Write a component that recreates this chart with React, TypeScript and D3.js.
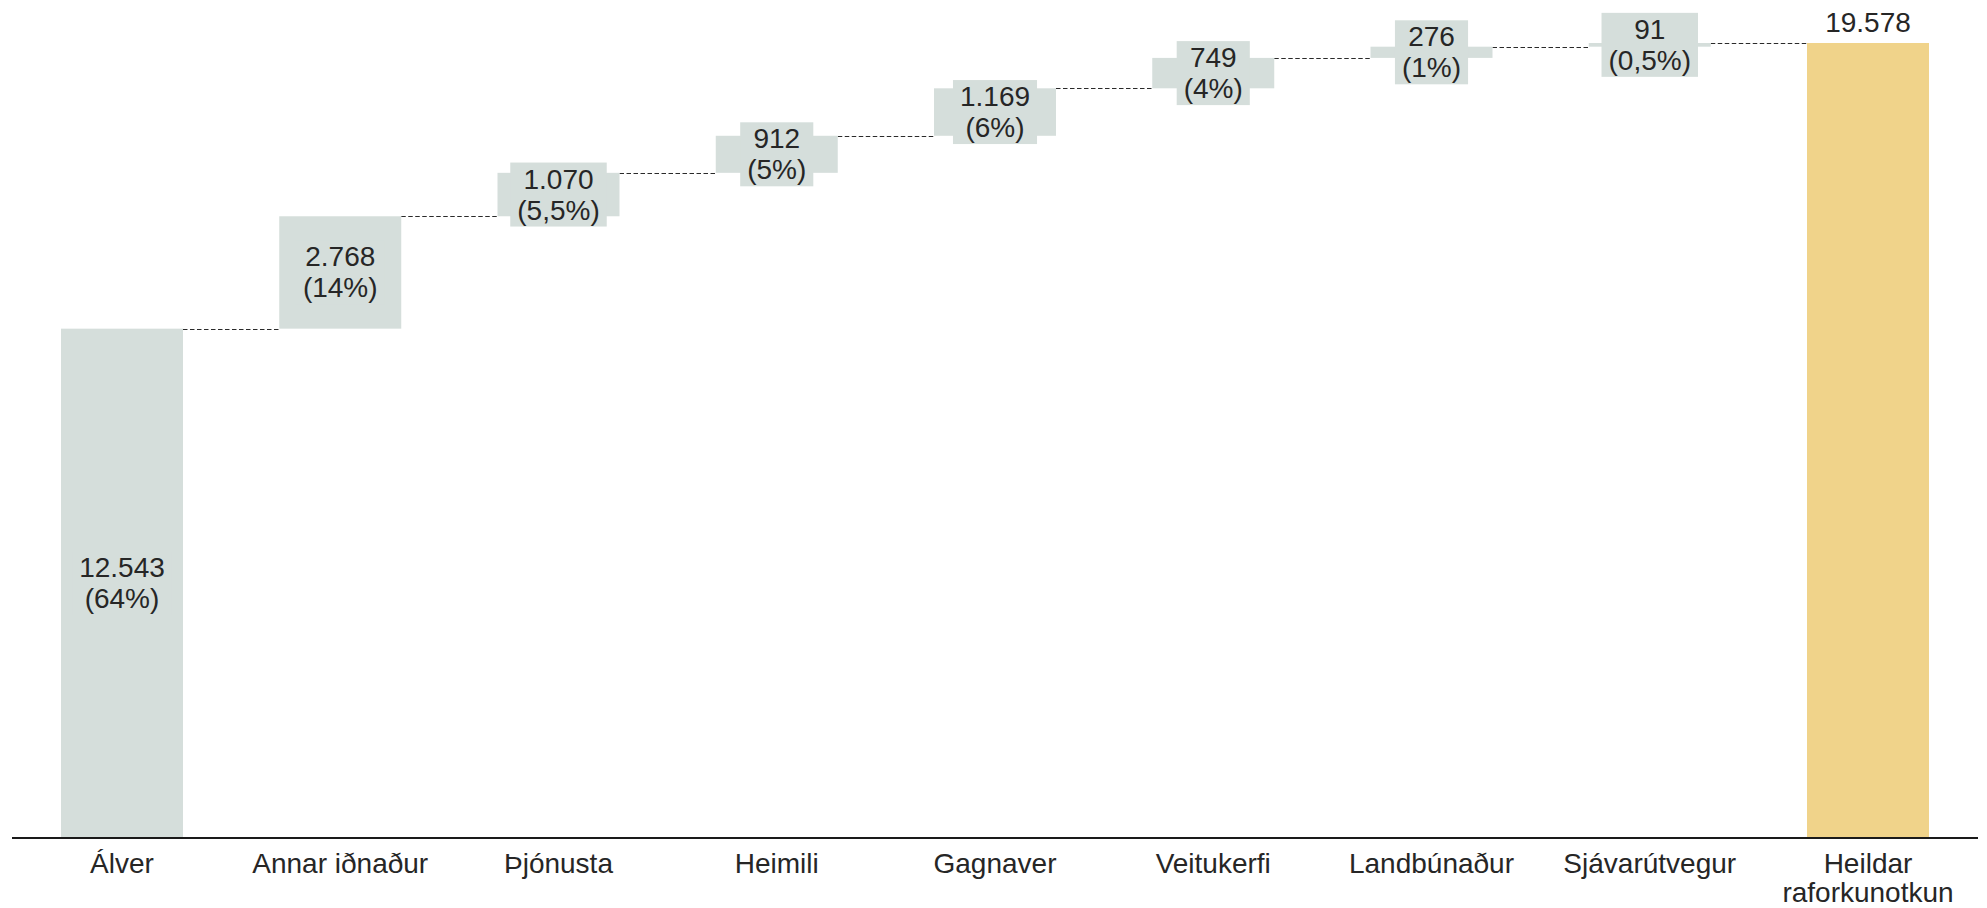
import React from "react";
import * as d3 from "d3";

// Electricity use by sector (GWh), with share of the total
const categories = [
  "Álver",
  "Annar iðnaður",
  "Þjónusta",
  "Heimili",
  "Gagnaver",
  "Veitukerfi",
  "Landbúnaður",
  "Sjávarútvegur",
  "Heildar raforkunotkun",
];
const sectorValues = [12543, 2768, 1070, 912, 1169, 749, 276, 91];
const shareLabels = ["(64%)", "(14%)", "(5,5%)", "(5%)", "(6%)", "(4%)", "(1%)", "(0,5%)"];
const categoryLines = [
  ["Álver"],
  ["Annar iðnaður"],
  ["Þjónusta"],
  ["Heimili"],
  ["Gagnaver"],
  ["Veitukerfi"],
  ["Landbúnaður"],
  ["Sjávarútvegur"],
  ["Heildar", "raforkunotkun"],
];

const W = 1987;
const H = 908;
const FONT = "'Liberation Sans', Arial, Helvetica, sans-serif";
const FS = 28;
const LH = 31;
const BAR = "#d5dedb";
const TOTAL = "#f0d38a";
const TEXT = "#262626";

const isLocale = d3.formatLocale({ decimal: ",", thousands: ".", grouping: [3], currency: ["", " kr."] });
const fmt = isLocale.format(",d");

let measureCtx: CanvasRenderingContext2D | null = null;
function textWidth(s: string): number {
  if (!measureCtx) {
    const c = document.createElement("canvas");
    measureCtx = c.getContext("2d");
  }
  if (!measureCtx) return s.length * FS * 0.55;
  measureCtx.font = `${FS}px 'Liberation Sans', Arial, sans-serif`;
  return measureCtx.measureText(s).width;
}

export default function App() {
  const total = d3.sum(sectorValues);
  const x0 = 12;
  const x1 = 1978;
  const axisY = 838;

  const x = d3
    .scaleBand<string>()
    .domain(categories)
    .range([x0, x1])
    .paddingInner(0.441)
    .paddingOuter(0.2245);

  const y = d3.scaleLinear().domain([0, total]).range([axisY, 43]);

  // running totals for the floating steps
  const steps = sectorValues.map((v, i) => {
    const start = d3.sum(sectorValues.slice(0, i));
    return { cat: categories[i], start, end: start + v, value: v, share: shareLabels[i] };
  });

  const bw = x.bandwidth();

  return (
    <svg
      width={W}
      height={H}
      style={{ position: "absolute", left: 0, top: 0, background: "#fff" }}
      fontFamily={FONT}
    >
      {/* connectors between steps */}
      {steps.map((s, i) => {
        const nextCat = categories[i + 1];
        const xs = (x(s.cat) as number) + bw;
        const xe = x(nextCat) as number;
        const ly = Math.round(y(s.end)) + 0.5;
        return (
          <line
            key={`c${i}`}
            x1={xs}
            x2={xe}
            y1={ly}
            y2={ly}
            stroke="#2a2a2a"
            strokeWidth={1}
            strokeDasharray="4.5,2.5"
          />
        );
      })}

      {/* sector bars with their value labels */}
      {steps.map((s, i) => {
        const bx = x(s.cat) as number;
        const top = y(s.end);
        const bottom = y(s.start);
        const cx = bx + bw / 2;
        const cy = (top + bottom) / 2;
        const line1 = fmt(s.value);
        const line2 = s.share;
        const tw = Math.max(textWidth(line1), textWidth(line2));
        const boxW = tw + 14;
        const boxH = LH * 2 + 2;
        return (
          <g key={`b${i}`}>
            <rect x={bx} y={top} width={bw} height={Math.max(bottom - top, 0)} fill={BAR} />
            <rect x={cx - boxW / 2} y={cy - boxH / 2} width={boxW} height={boxH} fill={BAR} />
            <text x={cx} y={cy - 6} textAnchor="middle" fontSize={FS} fill={TEXT}>
              {line1}
            </text>
            <text x={cx} y={cy + 25} textAnchor="middle" fontSize={FS} fill={TEXT}>
              {line2}
            </text>
          </g>
        );
      })}

      {/* total bar */}
      {(() => {
        const cat = categories[categories.length - 1];
        const bx = x(cat) as number;
        const top = y(total);
        return (
          <g>
            <rect x={bx} y={top} width={bw} height={axisY - top} fill={TOTAL} />
            <text x={bx + bw / 2} y={top - 11.5} textAnchor="middle" fontSize={FS} fill={TEXT}>
              {fmt(total)}
            </text>
          </g>
        );
      })()}

      {/* baseline */}
      <line x1={x0} x2={x1} y1={axisY} y2={axisY} stroke="#1a1a1a" strokeWidth={1.8} />

      {/* category labels */}
      {categories.map((c, i) => (
        <text key={`l${i}`} textAnchor="middle" fontSize={FS} fill={TEXT}>
          {categoryLines[i].map((ln, j) => (
            <tspan key={j} x={(x(c) as number) + bw / 2} y={873 + j * 29}>
              {ln}
            </tspan>
          ))}
        </text>
      ))}
    </svg>
  );
}
